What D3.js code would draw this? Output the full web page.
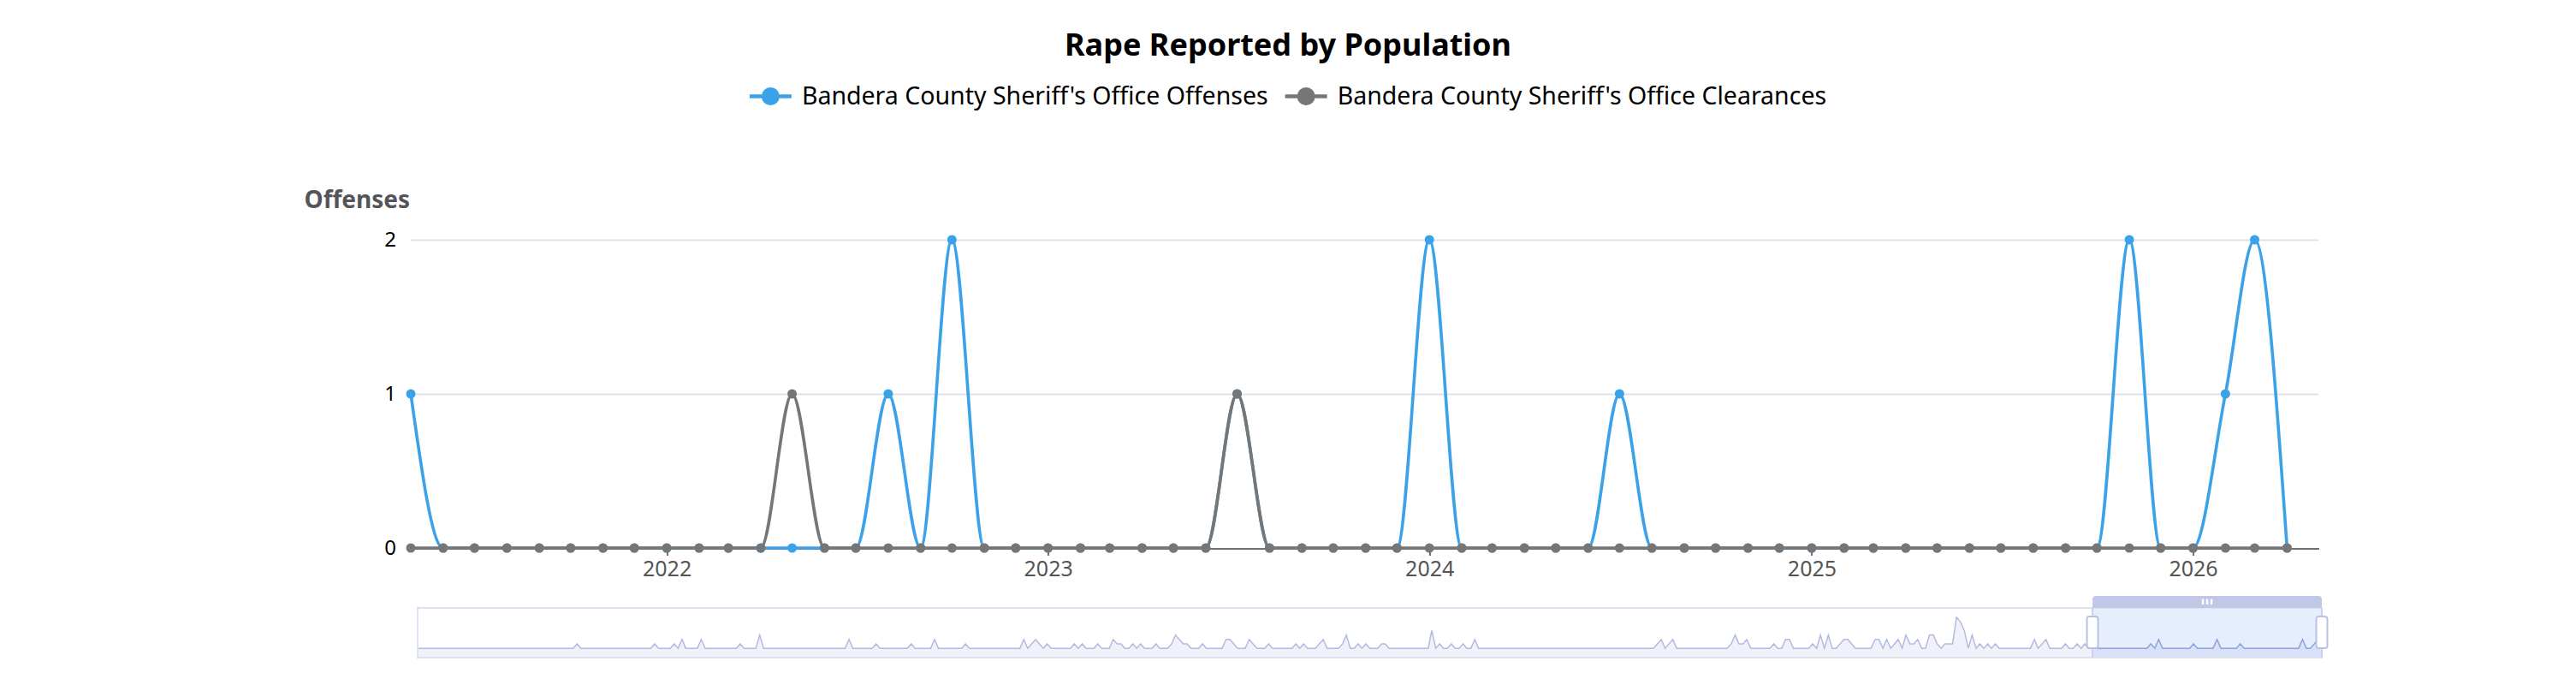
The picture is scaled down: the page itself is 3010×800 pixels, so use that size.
<!DOCTYPE html>
<html lang="en">
<head>
  <meta charset="UTF-8">
  <title>Rape Reported by Population</title>
  <script src="https://d3js.org/d3.v7.min.js"></script>
  <style>
    body {
      margin: 0;
      background: #fff;
      font-family: "Segoe UI", "Noto Sans", sans-serif;
    }
    .axis path, .axis line {
      shape-rendering: crispEdges;
    }
  </style>
</head>
<body>
  <div id="chart"></div>

  <script>
    // Visible window, one value per month starting May 2021
    const windowStart = "2021-05";
    const offenses = [
      1, 0, 0, 0, 0, 0, 0, 0, 0, 0, 0, 0,
      0, 0, 0, 1, 0, 2, 0, 0, 0, 0, 0, 0,
      0, 0, 1, 0, 0, 0, 0, 0, 2, 0, 0, 0,
      0, 0, 1, 0, 0, 0, 0, 0, 0, 0, 0, 0,
      0, 0, 0, 0, 0, 0, 2, 0, 0, 1, 2, 0
    ];
    const clearances = [
      0, 0, 0, 0, 0, 0, 0, 0, 0, 0, 0, 0,
      1, 0, 0, 0, 0, 0, 0, 0, 0, 0, 0, 0,
      0, 0, 1, 0, 0, 0, 0, 0, 0, 0, 0, 0,
      0, 0, 0, 0, 0, 0, 0, 0, 0, 0, 0, 0,
      0, 0, 0, 0, 0, 0, 0, 0, 0, 0, 0, 0
    ];

    // Earlier offenses (only shown in the zoom slider), Jun 1985 - Apr 2021
    const historyStart = "1985-06";
    const offensesHistory = [
      0, 0, 0, 0, 0, 0, 0,                    // 1985 Jun-Dec
      0, 0, 0, 0, 0, 0, 0, 0, 0, 0, 0, 0,     // 1986
      0, 0, 0, 0, 0, 0, 0, 0, 0, 0, 0, 0,     // 1987
      0, 0, 0, 0, 0, 0, 0, 0, 0, 0, 1, 0,     // 1988
      0, 0, 0, 0, 0, 0, 0, 0, 0, 0, 0, 0,     // 1989
      0, 0, 0, 0, 0, 0, 1, 0, 0, 0, 0, 1,     // 1990
      0, 2, 0, 0, 0, 0, 2, 0, 0, 0, 0, 0,     // 1991
      0, 0, 0, 0, 1, 0, 0, 0, 0, 3, 0, 0,     // 1992
      0, 0, 0, 0, 0, 0, 0, 0, 0, 0, 0, 0,     // 1993
      0, 0, 0, 0, 0, 0, 0, 0, 2, 0, 0, 0,     // 1994
      0, 0, 0, 1, 0, 0, 0, 0, 0, 0, 0, 0,     // 1995
      1, 0, 0, 0, 0, 0, 2, 0, 0, 0, 0, 0,     // 1996
      0, 0, 1, 0, 0, 0, 0, 0, 0, 0, 0, 0,     // 1997
      0, 0, 0, 0, 0, 2, 0, 1, 2, 1, 0, 1,     // 1998
      0, 0, 0, 0, 0, 0, 1, 0, 1, 0, 0, 0,     // 1999
      1, 0, 0, 0, 2, 1, 1, 0, 0, 1, 0, 1,     // 2000
      0, 0, 0, 1, 0, 0, 0, 1, 3, 2, 1, 1,     // 2001
      0, 0, 0, 1, 0, 0, 0, 0, 0, 2, 2, 1,     // 2002
      0, 0, 0, 2, 1, 0, 0, 0, 1, 0, 0, 0,     // 2003
      0, 0, 0, 1, 0, 1, 0, 0, 0, 1, 2, 0,     // 2004
      0, 0, 0, 1, 3, 0, 0, 1, 0, 1, 0, 0,     // 2005
      0, 1, 1, 0, 0, 0, 0, 0, 0, 0, 0, 0,     // 2006
      0, 0, 4, 0, 1, 0, 0, 1, 0, 0, 1, 0,     // 2007
      0, 2, 0, 0, 0, 0, 0, 0, 0, 0, 0, 0,     // 2008
      0, 0, 0, 0, 0, 0, 0, 0, 0, 0, 0, 0,     // 2009
      0, 0, 0, 0, 0, 0, 0, 0, 0, 0, 0, 0,     // 2010
      0, 0, 0, 0, 0, 0, 0, 0, 0, 0, 0, 0,     // 2011
      1, 2, 0, 1, 2, 0, 0, 0, 0, 0, 0, 0,     // 2012
      0, 0, 0, 0, 0, 0, 0, 1, 3, 1, 1, 2,     // 2013
      0, 0, 0, 0, 0, 0, 1, 0, 0, 2, 2, 0,     // 2014
      0, 0, 0, 0, 1, 0, 3, 0, 3, 0, 0, 1,     // 2015
      2, 2, 1, 0, 0, 0, 0, 0, 2, 2, 0, 2,     // 2016
      0, 1, 2, 0, 3, 1, 1, 2, 0, 0, 3, 3,     // 2017
      1, 0, 1, 1, 1, 7, 6, 4, 0, 3, 0, 1,     // 2018
      0, 1, 0, 1, 0, 0, 0, 0, 0, 0, 0, 0,     // 2019
      0, 2, 0, 1, 2, 0, 0, 0, 0, 1, 0, 0,     // 2020
      1, 0, 1, 0                              // 2021 Jan-Apr
    ];

    const yearTicks = [2022, 2023, 2024, 2025, 2026];
    const valueTicks = [0, 1, 2];

    const seriesNames = [
      "Bandera County Sheriff's Office Offenses",
      "Bandera County Sheriff's Office Clearances"
    ];
    const colors = ["#3ba2ea", "#767676"];

    const W = 3010, H = 800;
    const plot = { left: 480, right: 2709, top: 280, bottom: 640 };
    const slider = { left: 488, right: 2713, top: 710, bottom: 768 };

    const parseMonth = d3.timeParse("%Y-%m");
    const months = (start, n) => d3.range(n).map(i => d3.timeMonth.offset(parseMonth(start), i));

    const winDates = months(windowStart, offenses.length);
    const histDates = months(historyStart, offensesHistory.length);

    const svg = d3.select("#chart").append("svg")
      .attr("width", W)
      .attr("height", H)
      .style("display", "block");

    // Title
    svg.append("text")
      .attr("x", W / 2)
      .attr("y", 65)
      .attr("text-anchor", "middle")
      .style("font-size", "36px")
      .style("font-weight", "bold")
      .style("fill", "#000")
      .text("Rape Reported by Population");

    // Legend
    const legend = svg.append("g");
    const items = legend.selectAll("g").data(seriesNames).enter().append("g");
    items.append("line")
      .attr("x1", 0).attr("x2", 49).attr("y1", 0).attr("y2", 0)
      .attr("stroke", (d, i) => colors[i])
      .attr("stroke-width", 4.5);
    items.append("circle")
      .attr("cx", 24.5).attr("cy", 0).attr("r", 10.5)
      .attr("fill", (d, i) => colors[i]);
    items.append("text")
      .attr("x", 61)
      .attr("y", 0)
      .attr("dy", "0.35em")
      .style("font-size", "28.5px")
      .style("fill", "#000")
      .text(d => d);

    let lx = 0;
    const itemWidths = [];
    items.each(function () {
      const w = 61 + d3.select(this).select("text").node().getComputedTextLength();
      itemWidths.push(w);
    });
    const legendGap = 20;
    const legendWidth = d3.sum(itemWidths) + legendGap * (itemWidths.length - 1);
    items.attr("transform", (d, i) => {
      const t = `translate(${lx},0)`;
      lx += itemWidths[i] + legendGap;
      return t;
    });
    legend.attr("transform", `translate(${(W - legendWidth) / 2},112.5)`);

    // Scales
    const x = d3.scaleTime()
      .domain([winDates[0], d3.timeMonth.offset(winDates[winDates.length - 1], 1)])
      .range([plot.left, plot.right]);
    const y = d3.scaleLinear()
      .domain([0, 2])
      .range([plot.bottom, plot.top]);

    // Grid lines
    svg.append("g")
      .attr("transform", `translate(${plot.left},0)`)
      .call(d3.axisLeft(y).tickValues(valueTicks.slice(1)).tickSize(-(plot.right - plot.left)).tickFormat(""))
      .call(g => g.select(".domain").remove())
      .call(g => g.selectAll("line").attr("stroke", "#dfe2e8").attr("stroke-width", 2));

    // Y axis labels
    svg.append("g")
      .attr("transform", `translate(${plot.left},0)`)
      .call(d3.axisLeft(y).tickValues(valueTicks).tickFormat(d3.format("d")).tickSize(0).tickPadding(17))
      .call(g => g.select(".domain").remove())
      .call(g => g.selectAll("text")
        .style("font-size", "24px")
        .style("font-family", "'Segoe UI', 'Noto Sans', sans-serif")
        .attr("fill", "#000"));

    svg.append("text")
      .attr("x", plot.left - 1)
      .attr("y", 243)
      .attr("text-anchor", "end")
      .style("font-size", "28px")
      .style("font-weight", "bold")
      .style("fill", "#54555b")
      .text("Offenses");

    // X axis
    svg.append("g")
      .attr("class", "axis")
      .attr("transform", `translate(0,${plot.bottom})`)
      .call(d3.axisBottom(x)
        .tickValues(yearTicks.map(yr => new Date(yr, 0, 1)))
        .tickFormat(d3.timeFormat("%Y"))
        .tickSize(9)
        .tickSizeOuter(0)
        .tickPadding(6))
      .call(g => g.select(".domain").attr("stroke", "#6e7079").attr("stroke-width", 2))
      .call(g => g.selectAll(".tick line").attr("stroke", "#6e7079").attr("stroke-width", 2))
      .call(g => g.selectAll("text")
        .style("font-size", "25px")
        .style("font-family", "'Segoe UI', 'Noto Sans', sans-serif")
        .attr("fill", "#555"));

    // Series
    const line = d3.line()
      .x(d => x(d.date))
      .y(d => y(d.value))
      .curve(d3.curveMonotoneX);

    [offenses, clearances].forEach((values, s) => {
      const pts = values.map((v, i) => ({ date: winDates[i], value: v }));
      const g = svg.append("g");
      g.append("path")
        .datum(pts)
        .attr("fill", "none")
        .attr("stroke", colors[s])
        .attr("stroke-width", 3.6)
        .attr("d", line);
      g.selectAll("circle")
        .data(pts)
        .enter().append("circle")
        .attr("cx", d => x(d.date))
        .attr("cy", d => y(d.value))
        .attr("r", 5.5)
        .attr("fill", colors[s]);
    });

    // Zoom slider
    const allDates = histDates.concat(winDates);
    const allValues = offensesHistory.concat(offenses);
    const maxV = d3.max(allValues);
    const sx = d3.scaleTime()
      .domain([allDates[0], allDates[allDates.length - 1]])
      .range([slider.left, slider.right]);
    const sy = d3.scaleLinear()
      .domain([-0.3 * maxV, maxV * 1.3])
      .range([slider.bottom, slider.top]);
    const shadow = allValues.map((v, i) => ({ date: allDates[i], value: v }));
    const sLine = d3.line().x(d => sx(d.date)).y(d => sy(d.value));
    const sArea = d3.area().x(d => sx(d.date)).y0(slider.bottom).y1(d => sy(d.value));

    const winL = sx(winDates[0]);
    const winR = sx(winDates[winDates.length - 1]);

    svg.append("rect")
      .attr("x", slider.left).attr("y", slider.top)
      .attr("width", slider.right - slider.left)
      .attr("height", slider.bottom - slider.top)
      .attr("fill", "#fff");

    svg.append("path").datum(shadow)
      .attr("d", sArea).attr("fill", "#f1f2f9");
    svg.append("path").datum(shadow)
      .attr("d", sLine).attr("fill", "none")
      .attr("stroke", "#b3bae2").attr("stroke-width", 1.5);

    svg.append("clipPath").attr("id", "win-clip")
      .append("rect")
      .attr("x", winL).attr("y", slider.top)
      .attr("width", winR - winL).attr("height", slider.bottom - slider.top);

    const sel = svg.append("g").attr("clip-path", "url(#win-clip)");
    sel.append("rect")
      .attr("x", winL).attr("y", slider.top)
      .attr("width", winR - winL).attr("height", slider.bottom - slider.top)
      .attr("fill", "#e6edfc");
    sel.append("path").datum(shadow)
      .attr("d", sArea).attr("fill", "#d9e1f8");
    sel.append("path").datum(shadow)
      .attr("d", sLine).attr("fill", "none")
      .attr("stroke", "#8ea2dc").attr("stroke-width", 1.5);

    svg.append("rect")
      .attr("x", slider.left).attr("y", slider.top)
      .attr("width", slider.right - slider.left)
      .attr("height", slider.bottom - slider.top)
      .attr("fill", "none")
      .attr("stroke", "#dde1f3")
      .attr("stroke-width", 2);

    svg.append("line")
      .attr("x1", winL).attr("x2", winL)
      .attr("y1", slider.top).attr("y2", slider.bottom)
      .attr("stroke", "#c9d1ee").attr("stroke-width", 2);
    svg.append("line")
      .attr("x1", winR).attr("x2", winR)
      .attr("y1", slider.top).attr("y2", slider.bottom)
      .attr("stroke", "#c9d1ee").attr("stroke-width", 2);

    // move bar above the window
    const barTop = 696, r = 4;
    svg.append("path")
      .attr("d", `M${winL},${slider.top} V${barTop + r} Q${winL},${barTop} ${winL + r},${barTop}
        H${winR - r} Q${winR},${barTop} ${winR},${barTop + r} V${slider.top} Z`)
      .attr("fill", "#c1c7e6");
    const mid = (winL + winR) / 2;
    svg.selectAll(".grip").data([-1, 0, 1]).enter().append("rect")
      .attr("x", d => mid + d * 5 - 1.2)
      .attr("y", 699.5)
      .attr("width", 2.4)
      .attr("height", 6.5)
      .attr("fill", "#fff");

    // handles
    svg.selectAll(".handle").data([winL, winR]).enter().append("rect")
      .attr("x", d => d - 6.5)
      .attr("y", 720)
      .attr("width", 13)
      .attr("height", 37)
      .attr("rx", 3)
      .attr("fill", "#fff")
      .attr("stroke", "#b8c2e6")
      .attr("stroke-width", 2);
  </script>
</body>
</html>
